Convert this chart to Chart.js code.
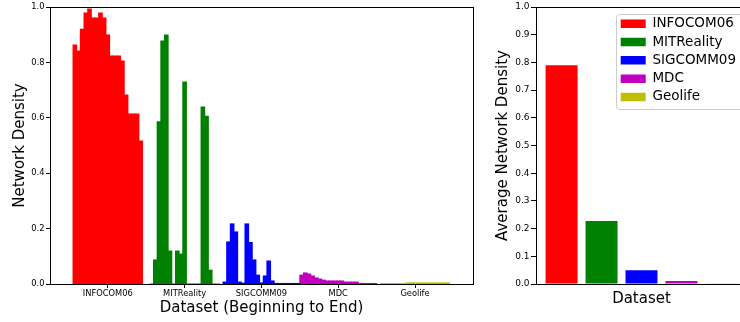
<!DOCTYPE html>
<html>
<head>
<meta charset="utf-8">
<script src="https://cdn.jsdelivr.net/npm/chart.js@4.4.1/dist/chart.umd.min.js"></script>
<style>
  html, body { margin: 0; padding: 0; background: #fff; overflow: hidden; }
  #wrap { position: relative; width: 740px; height: 322px; overflow: hidden; }
  #left { position: absolute; left: 0; top: 0; width: 490px; height: 322px; }
  #right { position: absolute; left: 490px; top: 0; width: 260px; height: 322px; }
</style>
</head>
<body>
<div id="wrap">
  <div id="left"><canvas id="densityChart"></canvas></div>
  <div id="right"><canvas id="avgChart"></canvas></div>
</div>
<script>
const datasetNames = ['INFOCOM06', 'MITReality', 'SIGCOMM09', 'MDC', 'Geolife'];
const colors = ['#ff0000', '#008000', '#0000ff', '#bf00bf', '#bfbf00'];

// network density per time slice (beginning -> end)
const infocom06 = [0.863, 0.841, 0.92, 0.978, 0.993, 0.96, 0.96, 0.978, 0.96, 0.899,
  0.823, 0.823, 0.823, 0.805, 0.682, 0.614, 0.614, 0.614, 0.516];
const mitReality = [0, 0.087, 0.586, 0.877, 0.899, 0.119, 0, 0.119, 0.108, 0.729,
  0, 0, 0, 0, 0.639, 0.606, 0.05, 0, 0];
const sigcomm09 = [0.007, 0.152, 0.217, 0.188, 0.007, 0.003, 0.217, 0.15, 0.087, 0.032,
  0.004, 0.029, 0.083, 0.011, 0.002, 0.002, 0.002, 0.002, 0.002, 0.002, 0.002];
const mdc = [0.032, 0.04, 0.036, 0.029, 0.022, 0.018, 0.014, 0.011, 0.011, 0.011,
  0.011, 0.011, 0.007, 0.007, 0.007, 0.007, 0.002, 0.002, 0.002, 0.002, 0.002];
const geolife = [0.0015, 0.0015, 0.0015, 0.0015, 0.0015, 0.0015, 0.0015, 0.004, 0.004, 0.004,
  0.004, 0.004, 0.004, 0.004, 0.004, 0.004, 0.004, 0.004, 0.004];

// average density per dataset
const avgDensity = [0.79, 0.227, 0.05, 0.011, 0.003];

const slotsPerGroup = 21;
const FONT = 'DejaVu Sans';
const series = [infocom06, mitReality, sigcomm09, mdc, geolife];

// full box around the plot area, like matplotlib spines
const axesBox = {
  id: 'axesBox',
  afterDatasetsDraw(chart) {
    const { ctx, chartArea: a } = chart;
    ctx.save();
    ctx.strokeStyle = '#000';
    ctx.lineWidth = 1;
    ctx.strokeRect(Math.round(a.left) + 0.5, Math.round(a.top) + 0.5,
      Math.round(a.right - a.left), Math.round(a.bottom - a.top));
    ctx.restore();
  }
};

// move the legend to the upper right corner of the plot and draw its frame
const legendInPlot = {
  id: 'legendInPlot',
  afterLayout(chart) {
    const lg = chart.legend, a = chart.chartArea;
    const w = lg.width;
    lg.left = a.right - w - 1;
    lg.right = lg.left + w;
    lg.top = a.top + 5.2;
    lg.bottom = a.bottom;
  },
  beforeDraw(chart) {
    const boxes = chart.legend.legendHitBoxes;
    if (!boxes || !boxes.length) return;
    const first = boxes[0], last = boxes[boxes.length - 1];
    const x = first.left - 5, y = first.top - 3;
    const h = last.top + last.height - y + 5;
    const ctx = chart.ctx;
    ctx.save();
    ctx.fillStyle = 'rgba(255,255,255,0.8)';
    ctx.strokeStyle = '#cccccc';
    ctx.lineWidth = 1;
    ctx.beginPath();
    ctx.roundRect(Math.round(x) + 0.5, Math.round(y) + 0.5, chart.width, Math.round(h), 3);
    ctx.fill();
    ctx.stroke();
    ctx.restore();
  }
};

const leftSets = series.map((vals, k) => ({
  label: datasetNames[k],
  data: vals.map((v, i) => ({ x: k * slotsPerGroup + i - (vals.length - 1) / 2, y: v })),
  backgroundColor: colors[k],
  borderColor: colors[k],
  borderWidth: 0,
  inflateAmount: 0.5,
  barPercentage: 1,
  categoryPercentage: 1,
  grouped: false
}));

new Chart(document.getElementById('densityChart'), {
  type: 'bar',
  data: { datasets: leftSets },
  options: {
    responsive: true,
    maintainAspectRatio: false,
    animation: false,
    layout: { padding: { top: 7, right: 17, left: 0, bottom: 0 } },
    plugins: { legend: { display: false }, tooltip: { enabled: false } },
    scales: {
      x: {
        type: 'linear',
        min: -15.8,
        max: 99.85,
        offset: false,
        afterBuildTicks(scale) {
          scale.ticks = datasetNames.map((_, k) => ({ value: k * slotsPerGroup }));
        },
        ticks: {
          autoSkip: false,
          maxRotation: 0,
          padding: 1,
          color: '#000',
          font: { family: FONT, size: 8.3 },
          callback: (v, i) => datasetNames[i]
        },
        grid: { drawOnChartArea: false, tickLength: 4, color: '#000', offset: false },
        border: { display: false },
        title: {
          display: true,
          text: 'Dataset (Beginning to End)',
          color: '#000',
          font: { family: FONT, size: 15 },
          padding: { top: 0, bottom: 5 }
        },
        afterFit(scale) { scale.height = 38; }
      },
      y: {
        min: 0,
        max: 1,
        ticks: {
          stepSize: 0.2,
          padding: 1.5,
          color: '#000',
          font: { family: FONT, size: 8.3 },
          callback: v => v.toFixed(1)
        },
        grid: { drawOnChartArea: false, tickLength: 4, color: '#000' },
        border: { display: false },
        title: {
          display: true,
          text: 'Network Density',
          color: '#000',
          font: { family: FONT, size: 15 },
          padding: { top: 11, bottom: 0 }
        },
        afterFit(scale) { scale.width = 50; }
      }
    }
  },
  plugins: [axesBox]
});

const rightSets = avgDensity.map((v, k) => ({
  label: datasetNames[k],
  data: [{ x: k, y: v }],
  backgroundColor: colors[k],
  borderColor: colors[k],
  borderWidth: 0,
  barPercentage: 0.8,
  categoryPercentage: 1,
  grouped: false
}));

new Chart(document.getElementById('avgChart'), {
  type: 'bar',
  data: { datasets: rightSets },
  options: {
    responsive: true,
    maintainAspectRatio: false,
    animation: false,
    layout: { padding: { top: 7, right: 3, left: 0, bottom: 0 } },
    plugins: {
      tooltip: { enabled: false },
      legend: {
        position: 'chartArea',
        align: 'start',
        labels: {
          boxWidth: 25,
          boxHeight: 8.5,
          padding: 4.8,
          color: '#000',
          font: { family: FONT, size: 13.5 }
        }
      }
    },
    scales: {
      x: {
        type: 'linear',
        min: -0.64,
        max: 4.64,
        offset: false,
        afterBuildTicks(scale) {
          scale.ticks = avgDensity.map((_, k) => ({ value: k }));
        },
        ticks: { display: false },
        grid: { display: false, offset: false },
        border: { display: false },
        title: {
          display: true,
          text: 'Dataset',
          color: '#000',
          font: { family: FONT, size: 15 },
          padding: { top: 0, bottom: 14 }
        },
        afterFit(scale) { scale.height = 38; }
      },
      y: {
        min: 0,
        max: 1,
        ticks: {
          stepSize: 0.1,
          padding: 1.5,
          color: '#000',
          font: { family: FONT, size: 9 },
          callback: v => v.toFixed(1)
        },
        grid: { drawOnChartArea: false, tickLength: 5, color: '#000' },
        border: { display: false },
        title: {
          display: true,
          text: 'Average Network Density',
          color: '#000',
          font: { family: FONT, size: 15 },
          padding: { top: 4, bottom: 0 }
        },
        afterFit(scale) { scale.width = 46; }
      }
    }
  },
  plugins: [axesBox, legendInPlot]
});
</script>
</body>
</html>
